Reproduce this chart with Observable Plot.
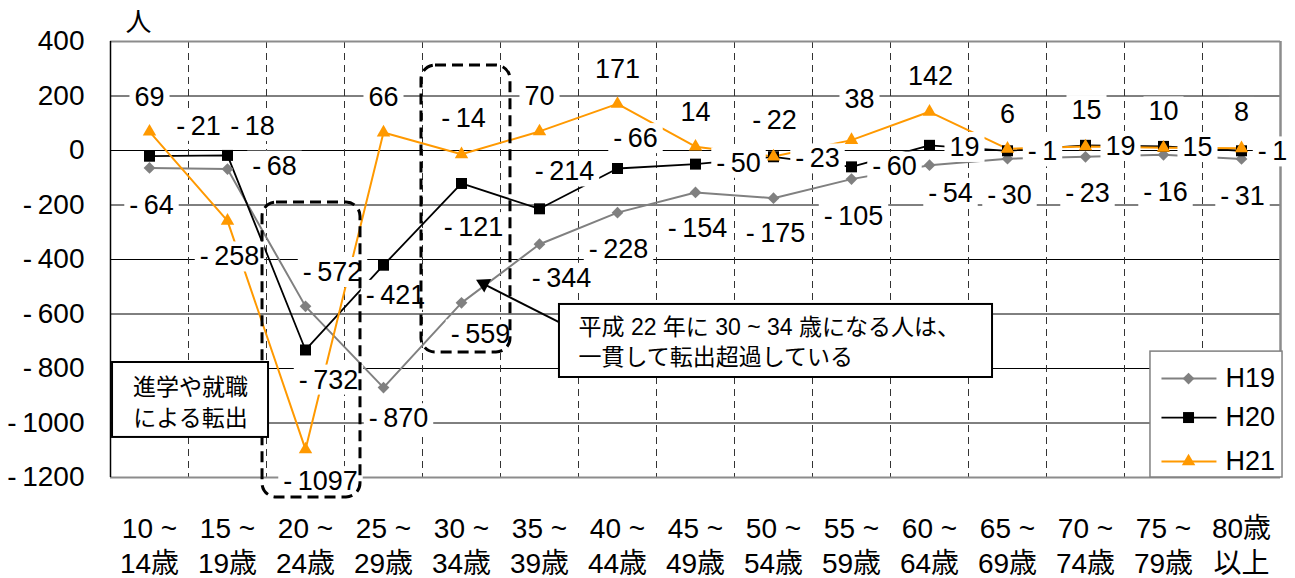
<!DOCTYPE html>
<html>
<head>
<meta charset="utf-8">
<script src="https://cdn.jsdelivr.net/npm/d3@7"></script>
<script src="https://cdn.jsdelivr.net/npm/@observablehq/plot@0.6"></script>
<style>
  body { margin: 0; background: #fff; }
  #chart svg { display: block; }
</style>
</head>
<body>
<div id="chart"></div>
<script>
// Net migration by age group (people), three fiscal years
const ageGroups = [
  "10 ~\n14歳", "15 ~\n19歳", "20 ~\n24歳", "25 ~\n29歳", "30 ~\n34歳",
  "35 ~\n39歳", "40 ~\n44歳", "45 ~\n49歳", "50 ~\n54歳", "55 ~\n59歳",
  "60 ~\n64歳", "65 ~\n69歳", "70 ~\n74歳", "75 ~\n79歳", "80歳\n以上"
];
const seriesNames = ["H19", "H20", "H21"];
const h19 = [-64, -68, -572, -870, -559, -344, -228, -154, -175, -105, -54, -30, -23, -16, -31];
const h20 = [-21, -18, -732, -421, -121, -214, -66, -50, -23, -60, 19, -1, 19, 15, -1];
const h21 = [69, -258, -1097, 66, -14, 70, 171, 14, -22, 38, 142, 6, 15, 10, 8];
const yTicks = [400, 200, 0, -200, -400, -600, -800, -1000, -1200];
const unitLabel = "人";
const noteStudy = "進学や就職\nによる転出";
const noteCohort = "平成 22 年に 30 ~ 34 歳になる人は、\n一貫して転出超過している";

// Per-series drawing style
const styles = {
  H19: {stroke: "#808080", width: 2, symbol: "diamond2", r: 5.3},
  H20: {stroke: "#000000", width: 1.8, symbol: "square", r: 6.2},
  H21: {stroke: "#FF9900", width: 2, symbol: "triangle", r: 5.0}
};

// Pixel nudges for each value label, [dx, dy], in age-group order
const labelNudge = {
  H19: [[2,37],[47,-3],[27,-34],[15,31],[19,32],[22,34],[1,37],[2,36],[2,35],[2,37],[21,28],[2,37],[2,37],[2,37],[1,37]],
  H20: [[49,-30],[25,-29],[23,30],[12,30],[12,44],[25,-37],[18,-30],[43,-1],[44,2],[43,0],[35,2],[35,1],[35,1],[34,1],[31,1]],
  H21: [[0,-34],[2,36],[15,32],[0,-35],[2,-36],[0,-35],[0,-35],[0,-34],[1,-36],[8,-41],[1,-35],[0,-35],[1,-36],[0,-36],[0,-36]]
};

const FONT = "'Liberation Sans', Arial, 'Noto Sans CJK JP', sans-serif";
const fmt = v => v < 0 ? "-\u2009" + Math.abs(v) : String(v);

const seriesValues = {H19: h19, H20: h20, H21: h21};
const rows = seriesNames.flatMap(name =>
  seriesValues[name].map((v, i) => ({series: name, i, v}))
);

const lineMarks = seriesNames.map(name =>
  Plot.line(rows.filter(d => d.series === name), {
    x: "i", y: "v", stroke: styles[name].stroke, strokeWidth: styles[name].width
  })
);
const dotMarks = seriesNames.map(name =>
  Plot.dot(rows.filter(d => d.series === name), {
    x: "i", y: "v", symbol: styles[name].symbol, r: styles[name].r,
    fill: styles[name].stroke, stroke: "none"
  })
);
const labelMarks = rows.map(d => {
  const [dx, dy] = labelNudge[d.series][d.i];
  return Plot.text([d], {
    x: "i", y: "v", text: e => fmt(e.v), dx, dy,
    fontSize: 27, fill: "#000", ariaDescription: "value label"
  });
});

// Annotation shapes, placed in chart coordinates
const dashedBoxes = [
  {x1: 1.449, x2: 2.705, y1: -191, y2: -1273},
  {x1: 3.487, x2: 4.628, y1: 312, y2: -741}
];
const noteBoxes = [
  {x1: -0.474, x2: 1.526, y1: -778, y2: -1053},
  {x1: 5.256, x2: 10.808, y1: -565, y2: -833}
];
const legendBox = {x1: 12.833, x2: 14.526, y1: -738, y2: -1200};
const legendRows = seriesNames.map((name, k) => ({name, y: [-837, -980, -1141][k]}));

const plot = Plot.plot({
  width: 1295,
  height: 578,
  marginLeft: 110,
  marginRight: 15,
  marginTop: 41,
  marginBottom: 101,
  style: {fontFamily: FONT, fontSize: "28px", background: "#fff", overflow: "visible", color: "#000"},
  x: {type: "linear", domain: [-0.5, 14.5], axis: null},
  y: {domain: [-1200, 400], axis: null},
  marks: [
    // grid
    Plot.ruleY(yTicks.filter(t => t !== 400 && t !== -1200), {stroke: "#000", strokeWidth: 1}),
    Plot.ruleX(d3.range(0.5, 14, 1), {stroke: "#333", strokeWidth: 1, strokeDasharray: "7,5"}),
    Plot.ruleY([400, -1200], {stroke: "#8c8c8c", strokeWidth: 2}),
    Plot.ruleX([14.5], {stroke: "#8c8c8c", strokeWidth: 2.5}),
    Plot.ruleX([-0.5], {stroke: "#000", strokeWidth: 1.5}),
    // axes
    Plot.axisY(yTicks, {tickSize: 0, tickPadding: 26, tickFormat: fmt, fontSize: 28}),
    Plot.text(d3.range(ageGroups.length), {
      x: d => d, text: i => ageGroups[i], frameAnchor: "bottom", dy: 36,
      lineAnchor: "top", lineHeight: 1.25, fontSize: 28
    }),
    Plot.text([unitLabel], {
      frameAnchor: "top-left", dx: 28, dy: -19, fontSize: 26,
      textAnchor: "middle", lineAnchor: "middle"
    }),
    // series
    ...lineMarks,
    ...dotMarks,
    ...labelMarks,
    // highlighted age groups
    Plot.rect(dashedBoxes, {
      x1: "x1", x2: "x2", y1: "y1", y2: "y2", fill: "none",
      stroke: "#000", strokeWidth: 3, strokeDasharray: "11,6", rx: 14
    }),
    // callouts
    Plot.link([{x1: 5.256, y1: -631, x2: 4.25, y2: -485}], {
      x1: "x1", y1: "y1", x2: "x2", y2: "y2", stroke: "#000", strokeWidth: 2
    }),
    Plot.dot([{x: 4.286, y: -489}], {x: "x", y: "y", symbol: "triangle", r: 5.6, rotate: -63, fill: "#000", stroke: "none"}),
    Plot.rect(noteBoxes, {
      x1: "x1", x2: "x2", y1: "y1", y2: "y2", fill: "#fff", stroke: "#000", strokeWidth: 2
    }),
    Plot.text([noteStudy], {x: 0.526, y: -916, fontSize: 23, lineHeight: 1.35}),
    Plot.text([noteCohort], {x: 5.5, y: -697, fontSize: 23, lineHeight: 1.3, textAnchor: "start"}),
    // legend
    Plot.rect([legendBox], {x1: "x1", x2: "x2", y1: "y1", y2: "y2", fill: "#fff", stroke: "#808080", strokeWidth: 1.5}),
    ...legendRows.map(d => Plot.link([d], {
      x1: 12.974, x2: 13.679, y1: "y", y2: "y", stroke: styles[d.name].stroke, strokeWidth: styles[d.name].width
    })),
    ...legendRows.map(d => Plot.dot([d], {
      x: 13.321, y: "y", symbol: styles[d.name].symbol, r: styles[d.name].r,
      fill: styles[d.name].stroke, stroke: "none"
    })),
    Plot.text(legendRows, {x: 13.795, y: "y", text: "name", textAnchor: "start", fontSize: 27})
  ]
});

document.getElementById("chart").append(plot);

// White boxes behind the value labels
const svgNS = "http://www.w3.org/2000/svg";
plot.querySelectorAll('g[aria-description="value label"] text').forEach(t => {
  const b = t.getBBox();
  const r = document.createElementNS(svgNS, "rect");
  r.setAttribute("x", b.x - 5);
  r.setAttribute("y", b.y);
  r.setAttribute("width", b.width + 10);
  r.setAttribute("height", b.height);
  r.setAttribute("fill", "#fff");
  r.setAttribute("stroke", "none");
  const tr = t.getAttribute("transform");
  if (tr) r.setAttribute("transform", tr);
  t.parentNode.insertBefore(r, t);
});
</script>
</body>
</html>
